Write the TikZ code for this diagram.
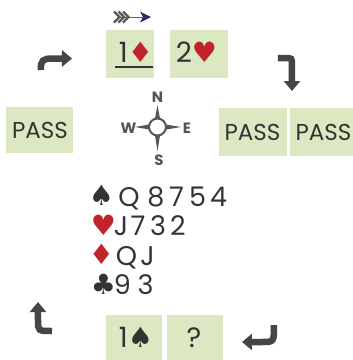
\documentclass[tikz,border=0pt]{standalone}
\usepackage{fontspec}
\setmainfont{Poppins}
\newfontfamily\suitfont{DejaVu Sans}
\usetikzlibrary{arrows.meta}
\definecolor{boxgreen}{HTML}{DCE8C2}
\definecolor{ink}{HTML}{333333}
\definecolor{suitred}{HTML}{C0242B}
\definecolor{arrowgray}{HTML}{454545}
\definecolor{navy}{HTML}{2B2F6E}
\definecolor{compassgray}{HTML}{555555}
\newcommand{\rs}[1]{{\suitfont\color{suitred}#1}}
\newcommand{\bs}[1]{{\suitfont\color{ink}#1}}
\begin{document}
\begin{tikzpicture}[x=1pt,y=-1pt,
  bidbox/.style={fill=boxgreen, draw=none, inner sep=0pt, outer sep=0pt},
  bidtext/.style={anchor=base, inner sep=0pt, text=ink, font=\fontsize{28}{28}\selectfont},
  passtext/.style={anchor=base, inner sep=0pt, text=ink, font=\fontsize{23}{23}\selectfont},
  handchar/.style={anchor=base, inner sep=0pt, text=ink, font=\fontsize{27}{27}\selectfont},
  suitchar/.style={anchor=base, inner sep=0pt, font=\fontsize{28}{28}\selectfont},
  compassletter/.style={inner sep=0pt, text=compassgray, font=\fontsize{15}{15}\selectfont\bfseries},
  spike/.style={fill=compassgray, draw=none},
  turnarrow/.style={draw=arrowgray, line width=6.5pt, -{Triangle[length=10pt,width=16pt]}}
]
\useasboundingbox (0,0) rectangle (353,360);
\fill[white] (0,0) rectangle (353,360);

% bidding boxes
\node[bidbox, minimum width=48, minimum height=48] (b1) at (130,54) {};
\node[bidbox, minimum width=58, minimum height=48] (b2) at (199,54) {};
\node[bidbox, minimum width=67, minimum height=46] (pw) at (39.5,130) {};
\node[bidbox, minimum width=68, minimum height=48] (pe1) at (253,132) {};
\node[bidbox, minimum width=63, minimum height=48] (pe2) at (321.5,132) {};
\node[bidbox, minimum width=56, minimum height=45] (bs1) at (134,337.5) {};
\node[bidbox, minimum width=56, minimum height=45] (bs2) at (195,337.5) {};

\node[bidtext] (t1) at (136,62) {1\rs{♦}};
\draw[ink, line width=1.5pt] (115,67) -- (153,67);
\node[bidtext] (t2) at (196.5,62) {2\rs{♥}};
\node[passtext] (tpw) at (40,138) {PASS};
\node[passtext] (tpe1) at (252.5,140) {PASS};
\node[passtext] (tpe2) at (323.5,140) {PASS};
\node[bidtext] (ts1) at (136,347) {1\bs{♠}};
\node[bidtext] (ts2) at (194,347) {?};

% lead arrow
\draw[gray!80!black, line width=1pt] (118,17) -- (145,17);
\foreach \fx in {114,118.5,123} {
  \draw[gray!70!black, line width=2.2pt] (\fx,11.5) -- (\fx+5.5,17) -- (\fx,22.5);
}
\fill[navy] (140,11.5) -- (151,17) -- (140,22.5) -- (143,17) -- cycle;

% turn arrows
\draw[turnarrow] (41,70) .. controls (40,60) and (44,58.5) .. (52,58.5) -- (72,58.5);
\draw[turnarrow] (278,58) -- (285,58) .. controls (292,58) .. (292,65) -- (292,91);
\draw[turnarrow] (52,331) .. controls (38,331) .. (38,320) -- (38,302);
\draw[turnarrow] (274,325) .. controls (274,342) .. (262,342) -- (242,342);

% compass
\fill[spike] (155,118.5) -- (157.5,105) -- (160,118.5) -- cycle;
\fill[spike] (155,135.5) -- (157.5,151) -- (160,135.5) -- cycle;
\fill[spike] (166,124.5) -- (181,127) -- (166,129.5) -- cycle;
\fill[spike] (149,124.5) -- (135,127) -- (149,129.5) -- cycle;
\node[circle, draw=compassgray, fill=white, line width=2pt, minimum size=17pt, inner sep=0pt] (cc) at (157.5,127) {};
\node[compassletter] (cn) at (157.5,97) {N};
\node[compassletter] (cs) at (159,160) {S};
\node[compassletter] (cw) at (128.5,128) {W};
\node[compassletter] (ce) at (187,128) {E};

% hand
\node[suitchar] (s1) at (101.5,205) {\bs{♠}};
\node[suitchar] (s2) at (103.5,235) {\rs{♥}};
\node[suitchar] (s3) at (101.5,264) {\rs{♦}};
\node[suitchar] (s4) at (103.5,294) {\bs{♣}};
\foreach \ch/\xx [count=\k] in {Q/129,8/156,7/176.5,5/197.5,4/218.5}
  \node[handchar] (ra\k) at (\xx,206) {\ch};
\foreach \ch/\xx [count=\k] in {J/121,7/138,3/158,2/178}
  \node[handchar] (rb\k) at (\xx,235) {\ch};
\foreach \ch/\xx [count=\k] in {Q/126.5,J/147.5}
  \node[handchar] (rc\k) at (\xx,265) {\ch};
\foreach \ch/\xx [count=\k] in {9/122.5,3/145.5}
  \node[handchar] (rd\k) at (\xx,294) {\ch};
\end{tikzpicture}
\end{document}
